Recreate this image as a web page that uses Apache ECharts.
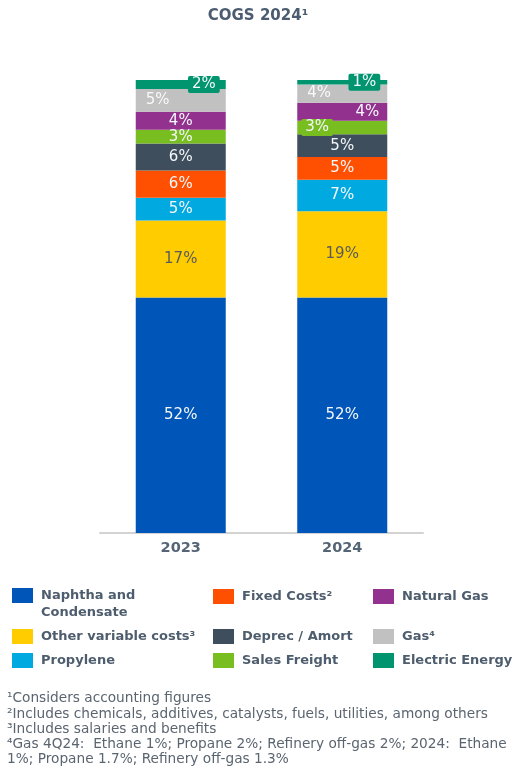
<!DOCTYPE html>
<html>
<head>
<meta charset="utf-8">
<script src="https://cdn.jsdelivr.net/npm/echarts@6/dist/echarts.min.js"></script>
<style>
  html, body { margin: 0; padding: 0; background: #ffffff; }
  #chart { width: 516px; height: 781px; }
</style>
</head>
<body>
<div id="chart"></div>
<script>
// COGS breakdown (% of total), stacked bottom to top
const categories = ['2023', '2024'];
const naphtha = [52, 52];
const otherVariable = [17, 19];
const propylene = [5, 7];
const fixedCosts = [6, 5];
const deprecAmort = [6, 5];
const salesFreight = [3, 3];
const naturalGas = [4, 4];
const gasFeed = [5, 4];
const electricEnergy = [2, 1];

const footnotes = [
  '\u00b9Considers accounting figures',
  '\u00b2Includes chemicals, additives, catalysts, fuels, utilities, among others',
  '\u00b3Includes salaries and benefits',
  '\u2074Gas 4Q24:  Ethane 1%; Propane 2%; Refinery off-gas 2%; 2024:  Ethane',
  '1%; Propane 1.7%; Refinery off-gas 1.3%'
];

const FONT = "'DejaVu Sans', Verdana, sans-serif";
const SLATE = '#4e5d6d';

const seriesDefs = [
  { name: 'Naphtha and Condensate', data: naphtha, color: '#0055b8', text: '#f4f7fb' },
  { name: 'Other variable costs\u00b3', data: otherVariable, color: '#ffcc00', text: '#5a5a5a' },
  { name: 'Propylene', data: propylene, color: '#00a9e0', text: '#f4f7fb' },
  { name: 'Fixed Costs\u00b2', data: fixedCosts, color: '#fe5000', text: '#f4f7fb' },
  { name: 'Deprec / Amort', data: deprecAmort, color: '#3f4e5c', text: '#f4f7fb' },
  { name: 'Sales Freight', data: salesFreight, color: '#78be20', text: '#f4f7fb' },
  { name: 'Natural Gas', data: naturalGas, color: '#93328e', text: '#f4f7fb' },
  { name: 'Gas\u2074', data: gasFeed, color: '#c1c1c1', text: '#f8f8f8' },
  { name: 'Electric Energy', data: electricEnergy, color: '#00956f', text: '#f4f7fb' }
];

// label placement for the thin segments near the top of the stacks
const labelPlacement = {
  'Electric Energy': [
    { position: 'insideRight', distance: 6, backgroundColor: '#00956f', padding: [1, 4], borderRadius: 2 },
    { position: 'insideRight', distance: 7, backgroundColor: '#00956f', padding: [1, 4], borderRadius: 2 }
  ],
  'Gas\u2074': [
    { position: 'insideLeft', distance: 10 },
    { position: 'insideLeft', distance: 10 }
  ],
  'Natural Gas': [
    null,
    { position: 'insideRight', distance: 8 }
  ],
  'Sales Freight': [
    null,
    { position: 'insideLeft', distance: 4, backgroundColor: '#78be20', padding: [1, 4], borderRadius: 2 }
  ]
};

const series = seriesDefs.map(d => ({
  name: d.name,
  type: 'bar',
  stack: 'cogs',
  barWidth: 90,
  itemStyle: { color: d.color },
  label: {
    show: true,
    position: 'inside',
    formatter: '{c}%',
    color: d.text,
    fontFamily: FONT,
    fontSize: 15
  },
  data: d.data.map((v, i) => {
    const p = labelPlacement[d.name] && labelPlacement[d.name][i];
    return p ? { value: v, label: p } : { value: v };
  })
}));

// one legend block per entry so the three columns line up
const legendCells = [
  { name: 'Naphtha and Condensate', left: 12, top: 570, twoLine: true },
  { name: 'Other variable costs\u00b3', left: 12, top: 628 },
  { name: 'Propylene', left: 12, top: 652 },
  { name: 'Fixed Costs\u00b2', left: 213, top: 588 },
  { name: 'Deprec / Amort', left: 213, top: 628 },
  { name: 'Sales Freight', left: 213, top: 652 },
  { name: 'Natural Gas', left: 373, top: 588 },
  { name: 'Gas\u2074', left: 373, top: 628 },
  { name: 'Electric Energy', left: 373, top: 652 }
];

const legend = legendCells.map(c => ({
  data: [c.name],
  left: c.left,
  top: c.top,
  padding: 0,
  icon: 'rect',
  itemWidth: 21,
  itemHeight: 15,
  itemGap: 8,
  selectedMode: false,
  // leading blank line keeps the first text line level with the swatch
  formatter: c.twoLine ? '\nNaphtha and\nCondensate' : '{name}',
  textStyle: {
    fontFamily: FONT,
    fontSize: 13,
    fontWeight: 'bold',
    color: SLATE,
    lineHeight: 17,
    padding: [0, 0, 0, 3]
  }
}));

const chart = echarts.init(document.getElementById('chart'), null, { renderer: 'canvas' });
chart.setOption({
  animation: false,
  backgroundColor: '#ffffff',
  title: {
    text: 'COGS 2024\u00b9',
    left: 'center',
    top: 4,
    textStyle: { fontFamily: FONT, fontSize: 15, fontWeight: 'bold', color: '#4b5b70' }
  },
  legend: legend,
  grid: { left: 100, right: 93, top: 80, bottom: 248 },
  xAxis: {
    type: 'category',
    data: categories,
    axisLine: { lineStyle: { color: '#d3d3d3', width: 2 } },
    axisTick: { show: false },
    axisLabel: {
      margin: 8,
      fontFamily: FONT,
      fontSize: 14.5,
      fontWeight: 'bold',
      color: '#556575'
    }
  },
  yAxis: {
    type: 'value',
    min: 0,
    max: 100,
    show: false
  },
  series: series,
  graphic: [{
    type: 'text',
    left: 7,
    top: 691,
    style: {
      text: footnotes.join('\n'),
      font: '13.7px ' + FONT,
      lineHeight: 15.3,
      fill: '#5b6570'
    }
  }]
});
</script>
</body>
</html>
